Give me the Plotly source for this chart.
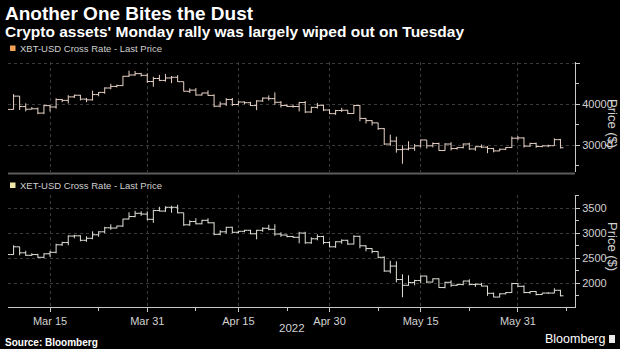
import plotly.graph_objects as go
import pandas as pd

dates = pd.date_range("2022-03-08", "2022-06-07", freq="D").strftime("%Y-%m-%d").tolist()

xbt_open = [38060, 38740, 41980, 39440, 38790, 38900, 37850, 39670, 39340, 41140, 40950, 41800, 42190, 41250,
            41080, 42360, 42890, 43960, 44350, 44550, 46820, 47130, 47460, 47060, 45540, 46280, 45810, 46410,
            46580, 45500, 43170, 43440, 42250, 42750, 42160, 39530, 40070, 41150, 39940, 40550, 40380, 39680,
            40800, 41500, 41370, 40480, 39710, 39470, 39450, 40430, 38110, 39240, 39740, 38600, 37710, 38470,
            38530, 37750, 39690, 36550, 36010, 35470, 34060, 30300, 31020, 28940, 29050, 29280, 29860, 31300,
            29870, 30430, 28720, 30310, 29200, 29430, 30320, 29100, 29660, 29540, 29200, 28630, 29030, 29470,
            31730, 31790, 29800, 30450, 29700, 29860, 29900, 31370]
xbt_high = [39360, 42470, 42000, 40240, 39310, 39210, 39900, 39860, 41470, 41300, 42200, 42380, 42300, 41550,
            43330, 42980, 44130, 45000, 44780, 46900, 48190, 48100, 47650, 47560, 46700, 47160, 47380, 46890,
            47100, 45500, 43880, 43950, 42790, 43380, 42410, 40640, 41500, 41530, 40850, 40690, 40590, 41000,
            41670, 42160, 42900, 40780, 39960, 39920, 40590, 40780, 39420, 40320, 39910, 38770, 38640, 39130,
            38630, 39900, 39840, 36620, 36130, 35480, 34230, 32600, 32100, 30000, 30980, 30300, 31400, 31300,
            30700, 30650, 30500, 30740, 29590, 30430, 30630, 29760, 30200, 29830, 29360, 29200, 29530, 32150,
            32230, 31960, 30620, 30650, 29900, 30140, 31690, 31550]
xbt_low = [37870, 38700, 38600, 38260, 38770, 37580, 37600, 38230, 38930, 40520, 40200, 41520, 40920, 40520,
           40900, 41930, 42560, 43660, 44100, 44440, 46660, 46950, 46750, 45210, 44250, 45640, 45520, 45140,
           45450, 43120, 42750, 42110, 42120, 42040, 39290, 39250, 39600, 39560, 39780, 40010, 39570, 38560,
           40590, 40900, 39850, 39210, 39340, 39170, 38250, 37880, 37880, 38940, 38330, 37600, 37420, 38100,
           37590, 37700, 35860, 35300, 34820, 33750, 30100, 29840, 28200, 25500, 28760, 28640, 29500, 29200,
           29490, 28700, 28660, 28730, 28950, 29250, 28900, 28670, 29300, 28080, 28280, 28580, 28830, 29320,
           31240, 29440, 29600, 29400, 29520, 29530, 29900, 29250]
xbt_close = [38740, 41980, 39440, 38790, 38900, 37850, 39670, 39340, 41140, 40950, 41800, 42190, 41250, 41080,
             42360, 42890, 43960, 44350, 44550, 46820, 47130, 47460, 47060, 45540, 46280, 45810, 46410, 46580,
             45500, 43170, 43440, 42250, 42750, 42160, 39530, 40070, 41150, 39940, 40550, 40380, 39680, 40800,
             41500, 41370, 40480, 39710, 39470, 39450, 40430, 38110, 39240, 39740, 38600, 37710, 38470, 38530,
             37750, 39690, 36550, 36010, 35470, 34060, 30300, 31020, 28940, 29050, 29280, 29860, 31300, 29870,
             30430, 28720, 30310, 29200, 29430, 30320, 29100, 29660, 29540, 29200, 28630, 29030, 29470, 31730,
             31790, 29800, 30450, 29700, 29860, 29900, 31370, 29400]

xet_open = [2500, 2575, 2730, 2610, 2560, 2575, 2520, 2590, 2620, 2770, 2815, 2945, 2950, 2860,
            2900, 2970, 3030, 3110, 3105, 3145, 3285, 3335, 3400, 3385, 3280, 3455, 3445, 3520,
            3520, 3410, 3170, 3235, 3190, 3260, 3210, 2980, 3030, 3120, 3020, 3040, 3060, 2990,
            3060, 3100, 3080, 2985, 2965, 2935, 2920, 3005, 2810, 2890, 2935, 2815, 2730, 2830,
            2860, 2785, 2940, 2750, 2695, 2635, 2520, 2245, 2345, 2075, 1960, 2015, 2055, 2145,
            2025, 2090, 1915, 2020, 1960, 1975, 2045, 1975, 1980, 1945, 1800, 1725, 1790, 1815,
            1995, 1940, 1815, 1835, 1775, 1805, 1805, 1860]
xet_high = [2630, 2760, 2730, 2650, 2600, 2590, 2600, 2650, 2790, 2830, 2960, 2970, 2960, 2940,
            3040, 3040, 3130, 3180, 3150, 3290, 3420, 3450, 3440, 3440, 3470, 3530, 3540, 3550,
            3570, 3410, 3260, 3300, 3270, 3300, 3220, 3060, 3130, 3130, 3050, 3070, 3070, 3070,
            3120, 3170, 3180, 3020, 2975, 2950, 3030, 3030, 2920, 2980, 2950, 2840, 2840, 2880,
            2870, 2960, 2950, 2760, 2700, 2640, 2540, 2450, 2440, 2180, 2160, 2070, 2150, 2150,
            2100, 2100, 2030, 2060, 1990, 2050, 2080, 2000, 2010, 1950, 1815, 1800, 1820, 2010,
            2000, 1960, 1840, 1845, 1810, 1820, 1900, 1870]
xet_low = [2480, 2570, 2560, 2550, 2550, 2510, 2500, 2530, 2600, 2750, 2760, 2900, 2840, 2830,
           2880, 2930, 3000, 3070, 3100, 3130, 3280, 3320, 3350, 3260, 3210, 3440, 3430, 3410,
           3400, 3150, 3150, 3180, 3180, 3200, 2960, 2960, 2990, 3000, 3000, 3020, 2980, 2880,
           3030, 3060, 2950, 2930, 2920, 2910, 2800, 2790, 2790, 2860, 2780, 2720, 2710, 2790,
           2770, 2780, 2700, 2640, 2600, 2500, 2230, 2200, 2020, 1720, 1950, 1960, 2000, 2000,
           2020, 1910, 1900, 1930, 1950, 1960, 1960, 1930, 1940, 1750, 1720, 1720, 1780, 1810,
           1930, 1800, 1790, 1760, 1770, 1790, 1800, 1740]
xet_close = [2575, 2730, 2610, 2560, 2575, 2520, 2590, 2620, 2770, 2815, 2945, 2950, 2860, 2900,
             2970, 3030, 3110, 3105, 3145, 3285, 3335, 3400, 3385, 3280, 3455, 3445, 3520, 3520,
             3410, 3170, 3235, 3190, 3260, 3210, 2980, 3030, 3120, 3020, 3040, 3060, 2990, 3060,
             3100, 3080, 2985, 2965, 2935, 2920, 3005, 2810, 2890, 2935, 2815, 2730, 2830, 2860,
             2785, 2940, 2750, 2695, 2635, 2520, 2245, 2345, 2075, 1960, 2015, 2055, 2145, 2025,
             2090, 1915, 2020, 1960, 1975, 2045, 1975, 1980, 1945, 1800, 1725, 1790, 1815, 1995,
             1940, 1815, 1835, 1775, 1805, 1805, 1860, 1750]

x_tick_vals = ["2022-03-15", "2022-03-31", "2022-04-15", "2022-04-30", "2022-05-15", "2022-05-31"]
x_tick_text = ["Mar 15", "Mar 31", "Apr 15", "Apr 30", "May 15", "May 31"]
x_minor_vals = ["2022-03-23", "2022-04-08", "2022-04-23", "2022-05-08", "2022-05-23", "2022-06-08"]
xbt_ticks = [30000, 40000, 50000]
xbt_tick_text = ["30000", "40000", ""]
xbt_minor = [25000, 35000, 45000]
xet_ticks = [2000, 2500, 3000, 3500]
xet_tick_text = ["2000", "2500", "3000", "3500"]
xet_minor = [1750, 2250, 2750, 3250, 3750]

# pixel geometry of plot area
L, R, T, B = 8, 575, 62, 307
W, H = R - L, B - T
def px(x):
    return (x - L) / W
def py(y):
    return (B - y) / H

TXT = "#d2d2d2"
GRID = "#3c3c3c"
FONT = "Liberation Sans, Arial, sans-serif"

fig = go.Figure()
fig.add_trace(go.Ohlc(x=dates, open=xbt_open, high=xbt_high, low=xbt_low, close=xbt_close,
                      increasing=dict(line=dict(color="#e8d2c6", width=1)),
                      decreasing=dict(line=dict(color="#e8d2c6", width=1)),
                      tickwidth=0.5, xaxis="x", yaxis="y", hoverinfo="skip", showlegend=False))
fig.add_trace(go.Ohlc(x=dates, open=xet_open, high=xet_high, low=xet_low, close=xet_close,
                      increasing=dict(line=dict(color="#e2e2da", width=1)),
                      decreasing=dict(line=dict(color="#e2e2da", width=1)),
                      tickwidth=0.5, xaxis="x", yaxis="y2", hoverinfo="skip", showlegend=False))

axis_common = dict(showline=True, linecolor="#c8c8c8", linewidth=1, ticks="outside", ticklen=4,
                   tickcolor="#c8c8c8", tickfont=dict(family=FONT, size=11, color=TXT),
                   showgrid=True, gridcolor=GRID, griddash="dot", gridwidth=1, zeroline=False)

fig.update_layout(
    width=620, height=349,
    margin=dict(l=L, r=620 - R, t=T, b=349 - B),
    paper_bgcolor="black", plot_bgcolor="black",
    font=dict(family=FONT, color=TXT),
    xaxis=dict(type="date", domain=[0, 1], anchor="y2",
               range=["2022-03-08 02:00", "2022-06-09 09:30"],
               tickmode="array", tickvals=x_tick_vals, ticktext=x_tick_text,
               minor=dict(tickmode="array", tickvals=x_minor_vals, ticklen=3, tickcolor="#c8c8c8",
                          showgrid=False),
               rangeslider=dict(visible=False), **axis_common),
    yaxis=dict(domain=[py(172), 1], anchor="x", side="right", range=[23490, 50300],
               tickmode="array", tickvals=xbt_ticks, ticktext=xbt_tick_text,
               minor=dict(tickmode="array", tickvals=xbt_minor, ticklen=3, tickcolor="#c8c8c8",
                          showgrid=False),
               **axis_common),
    yaxis2=dict(domain=[0, py(195)], anchor="x", side="right", range=[1526, 3766],
                tickmode="array", tickvals=xet_ticks, ticktext=xet_tick_text,
                minor=dict(tickmode="array", tickvals=xet_minor, ticklen=3, tickcolor="#c8c8c8",
                           showgrid=False),
                **axis_common),
)

shapes = [
    dict(type="line", xref="paper", yref="paper", x0=px(8), x1=px(575), y0=py(173.5), y1=py(173.5),
         line=dict(color="#5c5c5c", width=2)),
    dict(type="rect", xref="paper", yref="paper", x0=px(10), x1=px(15.5), y0=py(51), y1=py(45.5),
         fillcolor="#f2a257", line=dict(width=0)),
    dict(type="rect", xref="paper", yref="paper", x0=px(10), x1=px(15.5), y0=py(188), y1=py(182.5),
         fillcolor="#efe6a8", line=dict(width=0)),
    dict(type="rect", xref="paper", yref="paper", x0=px(609), x1=px(615), y0=py(343), y1=py(335),
         fillcolor="#e8e8e8", line=dict(width=0)),
]

def ann(text, x, y, size, xanchor="left", bold=False, color=TXT, angle=0):
    return dict(text=f"<b>{text}</b>" if bold else text, x=px(x), y=py(y), xref="paper", yref="paper",
                xanchor=xanchor, yanchor="middle", showarrow=False, textangle=angle,
                font=dict(family=FONT, size=size, color=color))

annotations = [
    ann("Another One Bites the Dust", 3, 13.5, 19, bold=True, color="white"),
    ann("Crypto assets' Monday rally was largely wiped out on Tuesday", 3, 31, 15.5, bold=True, color="white"),
    ann("XBT-USD Cross Rate - Last Price", 17.5, 48.5, 9.5, color="#cfcfcf"),
    ann("XET-USD Cross Rate - Last Price", 17.5, 185.5, 9.5, color="#cfcfcf"),
    ann("Price ($)", 613, 123, 13, xanchor="center", color=TXT, angle=90),
    ann("Price ($)", 613, 246, 13, xanchor="center", color=TXT, angle=90),
    ann("2022", 292, 328, 11.5, xanchor="center"),
    ann("Source: Bloomberg", 3, 342, 10, bold=True, color="white"),
    ann("Bloomberg", 607, 339, 12.5, xanchor="right", color="white"),
]
fig.update_layout(shapes=shapes, annotations=annotations)

fig.write_html("out.html")
